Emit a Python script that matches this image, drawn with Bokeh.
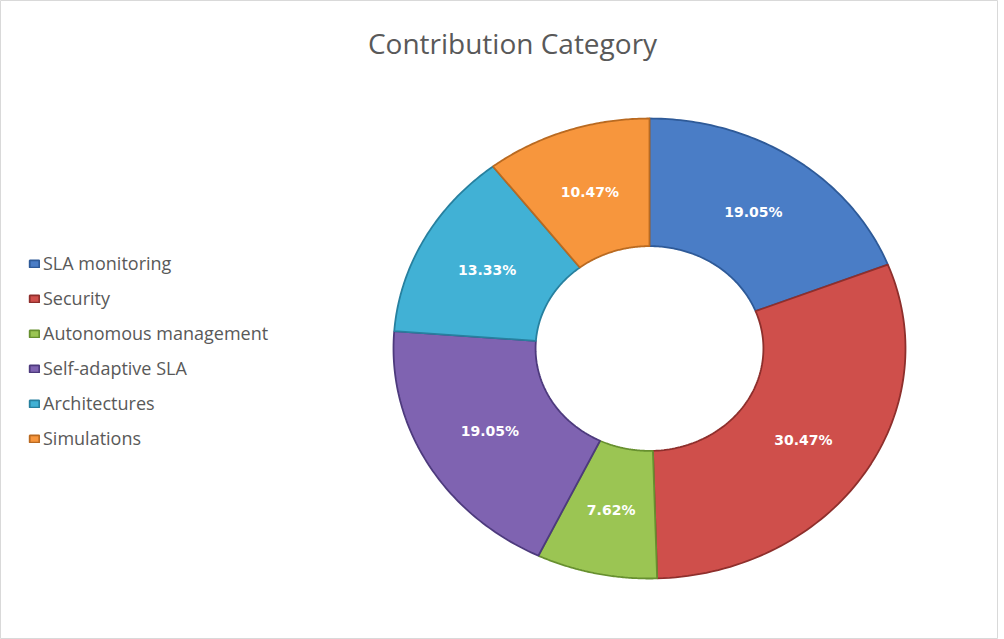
import numpy as np
from bokeh.plotting import figure
from bokeh.models import ColumnDataSource, Range1d, Label, Legend, LegendItem
from bokeh.core.properties import value
from bokeh.embed import file_html
from bokeh.resources import INLINE

# ---- data ----
categories = ["SLA monitoring", "Security", "Autonomous management",
              "Self-adaptive SLA", "Architectures", "Simulations"]
percents = [19.05, 30.47, 7.62, 19.05, 13.33, 10.47]
pct_labels = ["19.05%", "30.47%", "7.62%", "19.05%", "13.33%", "10.47%"]
colors = ["#4a7dc6", "#cf4f4b", "#9bc553", "#7f63b1", "#41b1d5", "#f7963d"]
edges = ["#2e5a98", "#8e2f2c", "#67902f", "#4d3a7d", "#27809f", "#b96a21"]
title_text = "Contribution Category"

# ---- layout ----
W, H = 998, 639
cx_px, cy_px = 649, 348          # ring centre, px from top-left of figure
rx_px, ry_px = 256, 230          # px per data unit in x and y
inner = 0.445
label_r = 0.72

p = figure(width=W, height=H, output_backend="svg", toolbar_location=None,
           x_axis_location=None, y_axis_location=None,
           x_range=Range1d(-cx_px / rx_px, (W - cx_px) / rx_px),
           y_range=Range1d(-(H - cy_px) / ry_px, cy_px / ry_px),
           min_border=0)
p.grid.visible = False
p.outline_line_color = "#d9d9d9"
p.outline_line_width = 1
p.background_fill_color = "white"
p.border_fill_color = "white"

vals = np.array(percents, dtype=float)
frac = vals / vals.sum()
ends = np.cumsum(frac) * 2 * np.pi
starts = ends - frac * 2 * np.pi

xs, ys, lx, ly = [], [], [], []
for a0, a1 in zip(starts, ends):
    t = np.linspace(a0, a1, 80)
    xo, yo = np.sin(t), np.cos(t)
    xi, yi = inner * np.sin(t[::-1]), inner * np.cos(t[::-1])
    xs.append(list(np.concatenate([xo, xi])))
    ys.append(list(np.concatenate([yo, yi])))
    m = (a0 + a1) / 2
    lx.append(label_r * np.sin(m))
    ly.append(label_r * np.cos(m))

src = ColumnDataSource(dict(xs=xs, ys=ys, color=colors, edge=edges,
                            cat=categories, lx=lx, ly=ly, lab=pct_labels))

r = p.patches("xs", "ys", source=src, fill_color="color", line_color="edge",
              line_width=1.8)

p.text("lx", "ly", text="lab", source=src, text_color="white",
       text_font=value("DejaVu Sans"), text_font_style="bold",
       text_font_size="14px", text_align="center", text_baseline="middle")

items = [LegendItem(label=c, renderers=[r], index=i) for i, c in enumerate(categories)]
legend = Legend(items=items, location=(28, H - 251 - 199), orientation="vertical",
                padding=0, margin=0, spacing=11, label_height=20,
                glyph_width=12, glyph_height=9, label_standoff=3,
                label_text_font="Open Sans", label_text_font_size="18px",
                label_text_color="#595959", border_line_color=None,
                background_fill_alpha=0)
p.add_layout(legend)

p.add_layout(Label(x=512, y=H - 42, x_units="screen", y_units="screen",
                   text=title_text, text_font="Open Sans", text_font_size="28px",
                   text_color="#595959", text_align="center",
                   text_baseline="middle"))

open("out.html", "w").write(file_html(p, INLINE))
